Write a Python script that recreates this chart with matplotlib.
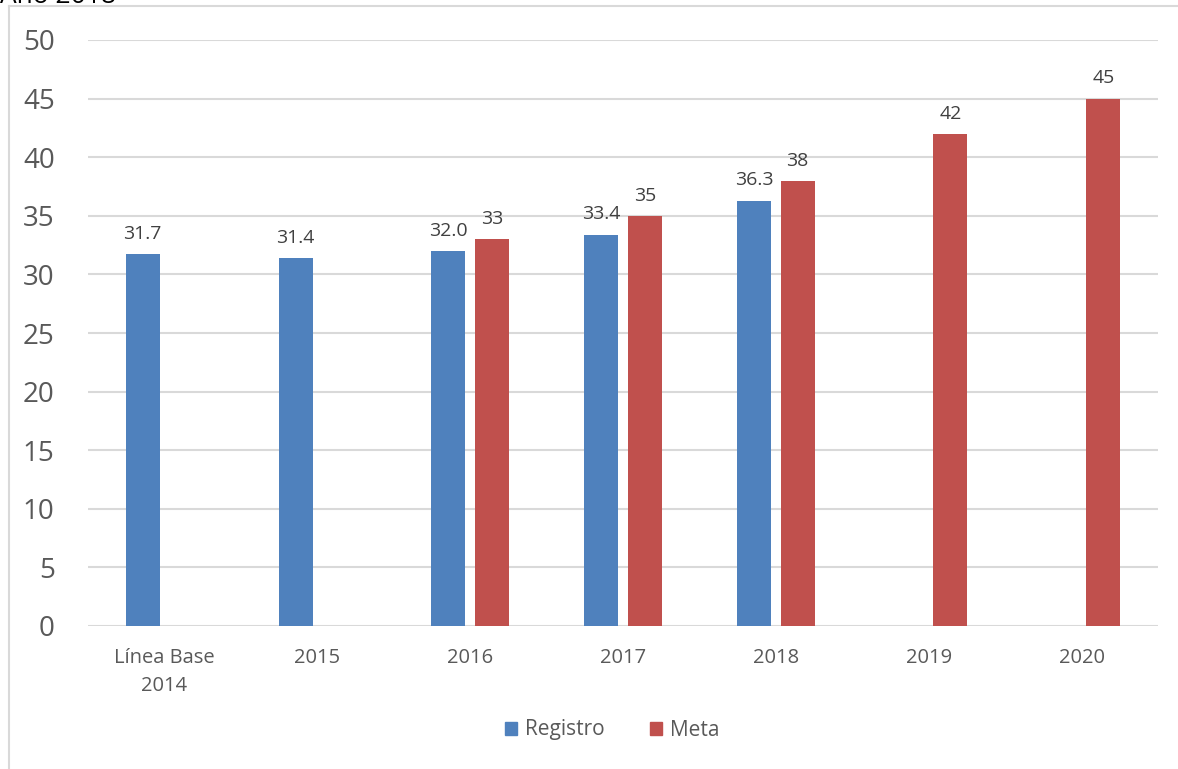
import numpy as np
import matplotlib.pyplot as plt
from matplotlib.lines import Line2D

categories = ["Línea Base\n2014", "2015", "2016", "2017", "2018", "2019", "2020"]
registro = [31.7, 31.4, 32.0, 33.4, 36.3, None, None]
meta = [None, None, 33, 35, 38, 42, 45]
registro_labels = ["31.7", "31.4", "32.0", "33.4", "36.3", "", ""]
meta_labels = ["", "", "33", "35", "38", "42", "45"]

plt.rcParams['font.family'] = ['Open Sans', 'DejaVu Sans']
blue = "#4F81BD"
red = "#C0504D"
gray = "#595959"

fig = plt.figure(figsize=(11.78, 7.69), dpi=100)
ax = fig.add_axes([88/1178, 1 - 626/769, (1158 - 88)/1178, (626 - 40)/769])

x = np.arange(len(categories))
w = 0.222
off = 0.142

for i in range(len(categories)):
    if registro[i] is not None:
        ax.bar(x[i] - off, registro[i], w, color=blue, zorder=3)
        ax.annotate(registro_labels[i], (x[i] - off, registro[i]), xytext=(0, 8),
                    textcoords="offset points", ha="center", va="bottom",
                    fontsize=14, color="#404040")
    if meta[i] is not None:
        ax.bar(x[i] + off, meta[i], w, color=red, zorder=3)
        ax.annotate(meta_labels[i], (x[i] + off, meta[i]), xytext=(0, 8),
                    textcoords="offset points", ha="center", va="bottom",
                    fontsize=14, color="#404040")

ax.set_xlim(-0.5, len(categories) - 0.5)
ax.set_ylim(0, 50)
ax.set_yticks(range(0, 51, 5))
ax.set_xticks(x)
ax.set_xticklabels(categories, fontsize=14.5, color=gray, linespacing=1.55)
ax.tick_params(axis="y", length=0, pad=24, labelsize=20, labelcolor=gray)
ax.tick_params(axis="x", length=0, pad=16)
ax.grid(axis="y", color="#D9D9D9", linewidth=1.5, zorder=0)
for s in ax.spines.values():
    s.set_visible(False)

handles = [plt.Rectangle((0, 0), 1, 1, color=blue), plt.Rectangle((0, 0), 1, 1, color=red)]
fig.legend(handles, ["Registro", "Meta"], loc="center", bbox_to_anchor=(612/1178, 1 - 730/769),
           ncol=2, frameon=False, fontsize=15, handlelength=0.6, handleheight=0.6,
           columnspacing=2.2, handletextpad=0.35, labelcolor=gray)

# frame of the cropped chart box
fig.add_artist(Line2D([9/1178, 9/1178], [0, 1 - 6/769], color="#D9D9D9", linewidth=1.5))
fig.add_artist(Line2D([9/1178, 1], [1 - 6/769, 1 - 6/769], color="#D9D9D9", linewidth=1.5))

fig.text(0.0, 1 - 3/769, "Año 2018", fontsize=19, color="black", ha="left", va="baseline")

fig.savefig("out.png", dpi=100)
